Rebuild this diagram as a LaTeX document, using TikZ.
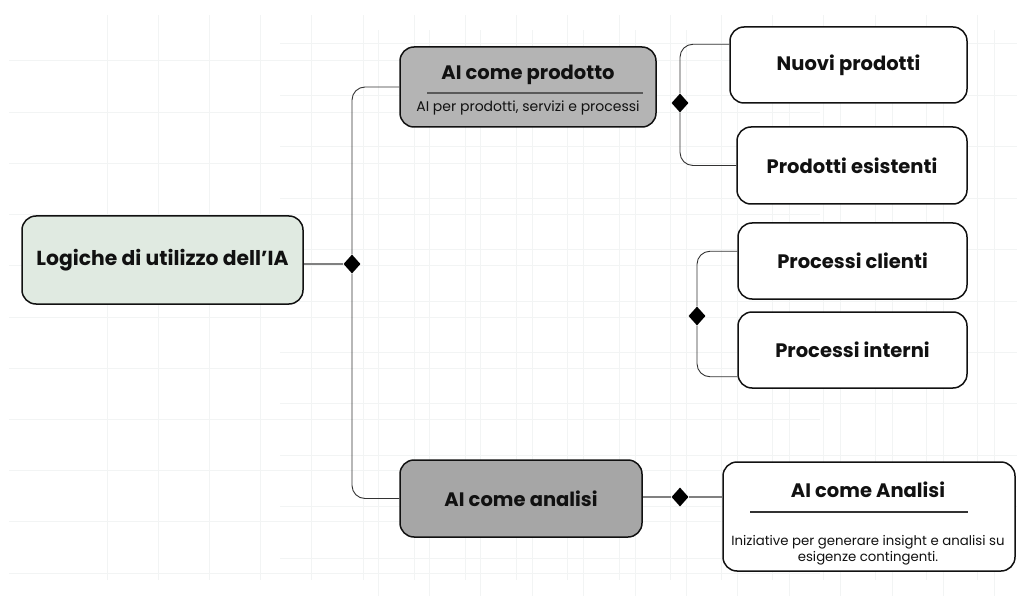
\documentclass[tikz,border=0pt]{standalone}
\usepackage{fontspec}
\setmainfont{Poppins}
\usetikzlibrary{shapes.geometric, positioning, calc}
\definecolor{rootfill}{HTML}{E0EAE1}
\definecolor{prodfill}{HTML}{B4B4B4}
\definecolor{analfill}{HTML}{A6A6A6}
\definecolor{gridcol}{HTML}{F2F4F4}
\definecolor{linkcol}{HTML}{333333}
\definecolor{inkcol}{HTML}{111111}

\begin{document}
\begin{tikzpicture}[
			x=1pt, y=-1pt,
			box/.style={draw=inkcol, line width=1.5pt, rounded corners=14pt, fill=white, inner sep=0pt, align=center, text=inkcol, font=\bfseries\fontsize{19.5}{23}\selectfont},
			hub/.style={diamond, fill=black, minimum width=17pt, minimum height=19pt, inner sep=0pt},
			link/.style={draw=linkcol, line width=0.9pt, rounded corners=13pt},
			trunk/.style={draw=black!50, line width=1.6pt},
			title/.style={inner sep=0pt, text=inkcol, font=\bfseries\fontsize{19.5}{23}\selectfont},
			sub/.style={inner sep=0pt, align=center, text=inkcol, font=\fontsize{13.3}{16}\selectfont},
			rule/.style={draw=black!65, line width=1.2pt}
			]
			\useasboundingbox (0,0) rectangle (1017,596);
			
			% --- Sfondo a griglia ---
			\foreach \i in {0,...,17} \draw[gridcol, line width=1pt] (107+51.2*\i,15) -- (107+51.2*\i,580);
			\foreach \i in {0,...,10} \draw[gridcol, line width=1pt] (9,61+51.2*\i) -- (820,61+51.2*\i);
			\foreach \i in {0,...,12} \draw[gridcol, line width=1pt] (378+51.4*\i,30) -- (378+51.4*\i,596);
			\foreach \i in {0,...,10} \draw[gridcol, line width=1pt] (280,44+51.4*\i) -- (1017,44+51.4*\i);
			
			% --- Nodi principali ---
			\node[box, fill=rootfill, minimum width=281pt, minimum height=88pt, font=\bfseries\fontsize{20.3}{24}\selectfont] (root) at (162.5,260) {Logiche di utilizzo dell’IA}; % Radice
			\node[box, fill=prodfill, minimum width=256pt, minimum height=80pt] (prod) at (528,87) {}; % AI come prodotto
			\node[box, fill=analfill, minimum width=242pt, minimum height=77pt] (anal) at (521,498.5) {AI come analisi}; % AI come analisi
			
			% --- Testi del nodo AI come prodotto ---
			\node[title] (prodT) at (528,75) {AI come prodotto};
			\draw[rule] (427,93) -- (643,93);
			\node[sub, font=\fontsize{14}{16}\selectfont] (prodS) at (528,108) {AI per prodotti, servizi e processi};
			
			% --- Foglie ---
			\node[box, minimum width=237pt, minimum height=76pt] (nuovi) at (848.5,65) {Nuovi prodotti};
			\node[box, minimum width=230pt, minimum height=77pt] (esist) at (852,165.5) {Prodotti esistenti};
			\node[box, minimum width=229pt, minimum height=76pt] (clienti) at (852.5,261) {Processi clienti};
			\node[box, minimum width=229pt, minimum height=76pt] (interni) at (852.5,350) {Processi interni};
			\node[box, minimum width=292pt, minimum height=109pt] (dett) at (869,516.5) {};
			
			% --- Testi del nodo AI come Analisi ---
			\node[title] (dettT) at (868,490) {AI come Analisi};
			\draw[rule, draw=black!80] (750,512) -- (968,512);
			\node[sub] (dettS) at (868,550) {Iniziative per generare insight e analisi su\\esigenze contingenti.};
			
			% --- Punti di diramazione ---
			\node[hub] (hubR) at (352,264) {};
			\node[hub] (hubP) at (680,103) {};
			\node[hub] (hubC) at (697,316) {};
			\node[hub] (hubA) at (680,497) {};
			
			% --- Collegamenti ---
			\draw[trunk] (root.east |- hubR) -- (hubR);
			\draw[link] (prod.west) -| (hubR) |- (anal.west);
			\draw[link] ([yshift=-18pt]nuovi.north west) -| (hubP) |- (esist.west);
			\draw[link] ([yshift=-29pt]clienti.north west) -| (hubC) |- ([yshift=12pt]interni.south west);
			\draw[trunk] (anal.east |- hubA) -- (hubA) -- (dett.west |- hubA);
			
		\end{tikzpicture}
\end{document}
